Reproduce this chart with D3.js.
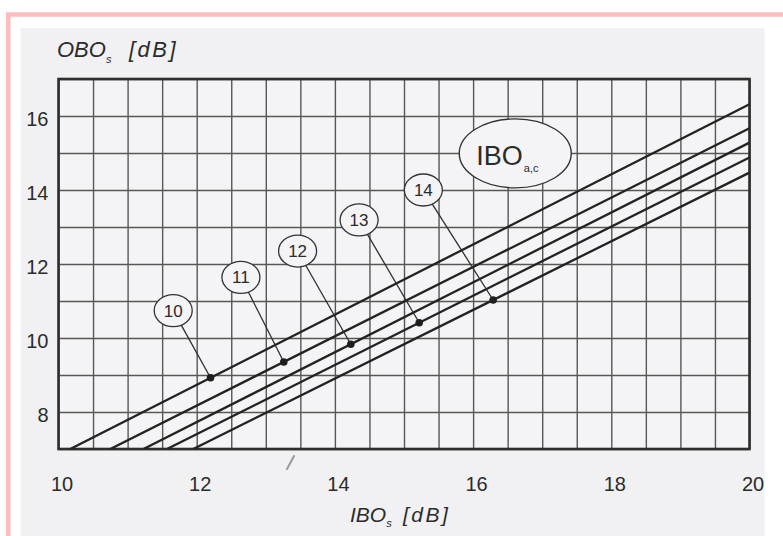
<!DOCTYPE html>
<html>
<head>
<meta charset="utf-8">
<script src="https://cdn.jsdelivr.net/npm/d3@7"></script>
<style>
  html, body { margin: 0; padding: 0; background: #ffffff; }
  svg { display: block; }
  text { font-family: "Liberation Sans", Arial, Helvetica, sans-serif; fill: #2b2b2b; }
</style>
</head>
<body>
<div id="chart"></div>
<script>
// ---- data ----
const xDomain = [10, 20];          // IBO_s [dB]
const yDomain = [7, 17];           // OBO_s [dB]
const xTickValues = [10, 12, 14, 16, 18, 20];
const yTickValues = [8, 10, 12, 14, 16];
const curveNames = ["10", "11", "12", "13", "14"];           // IBO_a,c
const curveStartIBO = [10.17, 10.75, 11.23, 11.57, 11.95];   // IBO where OBO = 7
const curveStartOBO = [7, 7, 7, 7, 7];
const curveEndIBO = [20, 20, 20, 20, 20];
const curveEndOBO = [16.32, 15.67, 15.28, 14.88, 14.47];     // OBO at IBO = 20
const markerIBO = [12.20, 13.26, 14.23, 15.22, 16.29];       // dot on each curve
const labelIBO = [11.66, 12.64, 13.46, 14.35, 15.28];        // circled label centre
const labelOBO = [10.74, 11.64, 12.35, 13.19, 14.00];
const paramLabelIBO = 16.61, paramLabelOBO = 14.99;

// ---- layout ----
const W = 783, H = 536;
const plot = { left: 58.5, right: 749.5, top: 79, bottom: 449 };

const svg = d3.select("#chart").append("svg")
  .attr("width", W).attr("height", H);

const x = d3.scaleLinear().domain(xDomain).range([plot.left, plot.right]);
const y = d3.scaleLinear().domain(yDomain).range([plot.bottom, plot.top]);

// page decoration: pink frame and scanned-paper area
svg.append("rect").attr("x", 8.3).attr("y", 14.5).attr("width", 900).attr("height", 700)
  .attr("fill", "none").attr("stroke", "#fbbdbd").attr("stroke-width", 4.5);
svg.append("rect").attr("x", 20.5).attr("y", 28).attr("width", 744).attr("height", 520)
  .attr("fill", "#f1f1f3");

svg.append("defs").append("clipPath").attr("id", "scan")
  .append("rect").attr("x", 20.5).attr("y", 28).attr("width", 744).attr("height", 520);
svg.select("defs").append("clipPath").attr("id", "plotclip")
  .append("rect").attr("x", plot.left).attr("y", plot.top)
  .attr("width", plot.right - plot.left).attr("height", plot.bottom - plot.top);

const g = svg.append("g").attr("clip-path", "url(#scan)");

// plot background
g.append("rect").attr("x", plot.left).attr("y", plot.top)
  .attr("width", plot.right - plot.left).attr("height", plot.bottom - plot.top)
  .attr("fill", "#f4f4f6");

// grid via axes
const xGrid = d3.axisBottom(x).tickValues(d3.range(10, 20.001, 0.5))
  .tickSize(-(plot.bottom - plot.top)).tickFormat("");
g.append("g").attr("transform", `translate(0,${plot.bottom})`).call(xGrid)
  .call(s => s.select(".domain").remove())
  .call(s => s.selectAll("line").attr("stroke", "#575757").attr("stroke-width", 1.4));
const yGrid = d3.axisLeft(y).tickValues(d3.range(7, 17.001, 1))
  .tickSize(-(plot.right - plot.left)).tickFormat("");
g.append("g").attr("transform", `translate(${plot.left},0)`).call(yGrid)
  .call(s => s.select(".domain").remove())
  .call(s => s.selectAll("line").attr("stroke", "#575757").attr("stroke-width", 1.4));

// tick labels via axes
const xAxis = d3.axisBottom(x).tickValues(xTickValues).tickSize(0).tickPadding(0).tickFormat(d3.format("d"));
g.append("g").attr("transform", `translate(0,${plot.bottom})`).call(xAxis)
  .call(s => s.select(".domain").remove())
  .call(s => s.selectAll("text").attr("dy", null).attr("y", 42).attr("dx", 3)
    .attr("font-size", 20).attr("font-family", null).attr("fill", "#2b2b2b"));
const yAxis = d3.axisLeft(y).tickValues(yTickValues).tickSize(0).tickPadding(0).tickFormat(d3.format("d"));
g.append("g").attr("transform", `translate(${plot.left},0)`).call(yAxis)
  .call(s => s.select(".domain").remove())
  .call(s => s.selectAll("text").attr("dy", null).attr("x", -10).attr("y", 9)
    .attr("font-size", 20).attr("font-family", null).attr("fill", "#2b2b2b"));

// frame
g.append("rect").attr("x", plot.left).attr("y", plot.top)
  .attr("width", plot.right - plot.left).attr("height", plot.bottom - plot.top)
  .attr("fill", "none").attr("stroke", "#2e2e2e").attr("stroke-width", 2.6);

// curves
const curves = curveNames.map((n, i) => ({
  name: n,
  pts: [[curveStartIBO[i], curveStartOBO[i]], [curveEndIBO[i], curveEndOBO[i]]]
}));
const line = d3.line().x(d => x(d[0])).y(d => y(d[1]));
g.append("g").attr("clip-path", "url(#plotclip)")
  .selectAll("path").data(curves).join("path")
  .attr("d", d => line(d.pts))
  .attr("fill", "none").attr("stroke", "#222").attr("stroke-width", 2.3);

// markers on curves, with leaders to circled labels
function onCurve(c, xv) {
  const [p0, p1] = c.pts;
  return p0[1] + (p1[1] - p0[1]) * (xv - p0[0]) / (p1[0] - p0[0]);
}
const rx = 19, ry = 16;
curves.forEach((c, i) => {
  const mx = x(markerIBO[i]), my = y(onCurve(c, markerIBO[i]));
  const lx = x(labelIBO[i]), ly = y(labelOBO[i]);
  const dx = mx - lx, dy = my - ly;
  const t = 1 / Math.sqrt((dx * dx) / (rx * rx) + (dy * dy) / (ry * ry));
  g.append("line").attr("x1", lx + dx * t).attr("y1", ly + dy * t)
    .attr("x2", mx).attr("y2", my)
    .attr("stroke", "#2e2e2e").attr("stroke-width", 1.3);
  g.append("circle").attr("cx", mx).attr("cy", my).attr("r", 3.8).attr("fill", "#1e1e1e");
  g.append("ellipse").attr("cx", lx).attr("cy", ly).attr("rx", rx).attr("ry", ry)
    .attr("fill", "#f4f4f6").attr("stroke", "#333").attr("stroke-width", 1.3);
  g.append("text").attr("x", lx).attr("y", ly + 6).attr("text-anchor", "middle")
    .attr("font-size", 17).text(c.name);
});

// parameter label IBO_a,c
const px = x(paramLabelIBO), py = y(paramLabelOBO);
g.append("ellipse").attr("cx", px).attr("cy", py).attr("rx", 56).attr("ry", 34.5)
  .attr("fill", "#f4f4f6").attr("stroke", "#333").attr("stroke-width", 1.4);
const pt = g.append("text").attr("x", px - 39).attr("y", py + 12).attr("font-size", 27);
pt.append("tspan").text("IBO");
pt.append("tspan").attr("font-size", 11).attr("dy", 7).attr("dx", 1).text("a,c");

// axis titles
const yt = g.append("text").attr("x", 57).attr("y", 57).attr("font-size", 22).attr("font-style", "italic");
yt.append("tspan").text("OBO");
yt.append("tspan").attr("font-size", 11).attr("dy", 6).text("s");
yt.append("tspan").attr("x", 129).attr("dy", -6).attr("letter-spacing", 2.5).text("[dB]");

const xt = g.append("text").attr("x", 350).attr("y", 522).attr("font-size", 21).attr("font-style", "italic");
xt.append("tspan").text("IBO");
xt.append("tspan").attr("font-size", 11).attr("dy", 5).text("s");
xt.append("tspan").attr("x", 403).attr("dy", -5).attr("letter-spacing", 2.5).text("[dB]");

// small pencil mark on the scan
g.append("line").attr("x1", 287).attr("y1", 469).attr("x2", 294).attr("y2", 456)
  .attr("stroke", "#9a9a9a").attr("stroke-width", 2).attr("stroke-linecap", "round");
</script>
</body>
</html>
